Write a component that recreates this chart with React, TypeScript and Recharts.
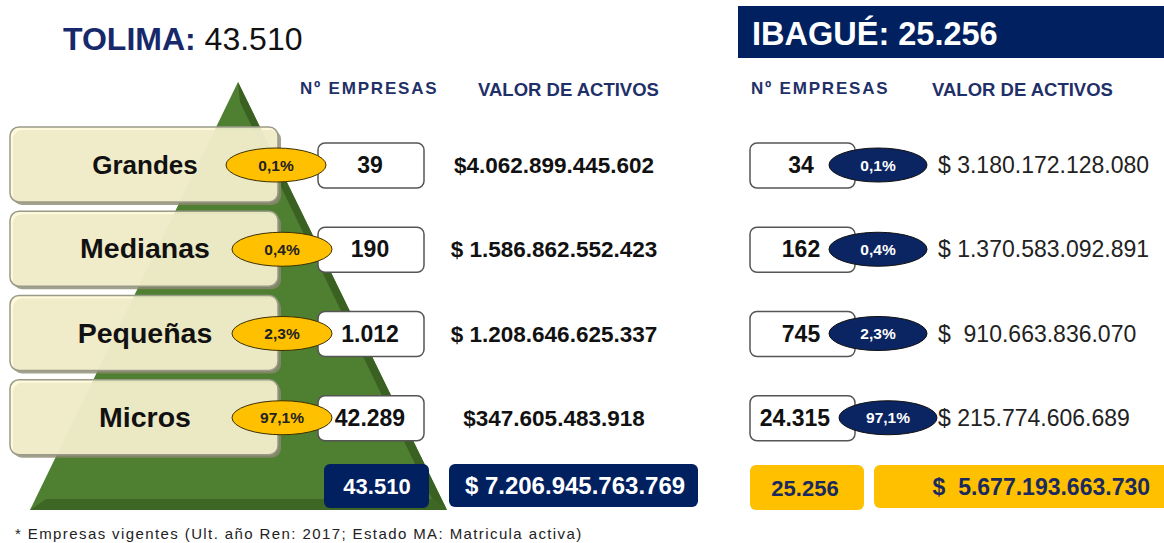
import React from 'react';
import { ComposedChart, Bar, XAxis, YAxis, Customized } from 'recharts';

const categories = ['Grandes', 'Medianas', 'Pequeñas', 'Micros'];
const tolimaCount = [39, 190, 1012, 42289];
const tolimaShare = ['0,1%', '0,4%', '2,3%', '97,1%'];
const tolimaAssets = [4062899445602, 1586862552423, 1208646625337, 347605483918];
const tolimaSign = ['$', '$ ', '$ ', '$'];
const ibagueCount = [34, 162, 745, 24315];
const ibagueShare = ['0,1%', '0,4%', '2,3%', '97,1%'];
const ibagueAssets = [3180172128080, 1370583092891, 910663836070, 215774606689];
const ibagueSign = ['$ ', '$ ', '$  ', '$ '];
const tolimaTotal = 43510;
const tolimaAssetTotal = 7206945763769;
const ibagueTotal = 25256;
const ibagueAssetTotal = 5677193663730;

const NAVY = '#0b2462';
const GOLD = '#ffc000';
const FONT = 'Arial, "Liberation Sans", sans-serif';

const fmt = (n: number) => String(n).replace(/\B(?=(\d{3})+(?!\d))/g, '.');

const data = categories.map((name, i) => ({
  name,
  tolimaCount: tolimaCount[i],
  tolimaShare: tolimaShare[i],
  tolimaAssets: tolimaAssets[i],
  ibagueCount: ibagueCount[i],
  ibagueShare: ibagueShare[i],
  ibagueAssets: ibagueAssets[i],
  i,
}));

// one bar = one whole row of the infographic, placed by the category band
const Row = (props: any) => {
  const { y, height, payload } = props;
  const cy = y + height / 2;
  const i = payload.i;
  const ex = i === 0 ? 276 : 282;
  const rx2 = i === 3 ? 888 : 878;
  return (
    <g fontFamily={FONT}>
      <rect x={13} y={cy - 35} width={268} height={75} rx={9} fill="#8b8a72" opacity={0.8} />
      <rect x={10} y={cy - 38} width={268} height={75} rx={9} fill="#fdf8d4" fillOpacity={0.86} stroke="#9a9a88" strokeWidth={1.5} />
      <text x={145} y={cy + 9} textAnchor="middle" fontSize={i === 0 ? 26 : 28.5} fontWeight="bold" fill="#111">{payload.name}</text>

      <rect x={318} y={cy - 22} width={106} height={45} rx={7} fill="#fff" stroke="#555" strokeWidth={1.5} />
      <text x={370} y={cy + 8} textAnchor="middle" fontSize={23} fontWeight="bold" fill="#111">{fmt(payload.tolimaCount)}</text>
      <ellipse cx={ex} cy={cy} rx={50} ry={17} fill={GOLD} stroke="#3b3000" strokeWidth={1} />
      <text x={ex} y={cy + 5.5} textAnchor="middle" fontSize={15.5} fontWeight="bold" fill="#222">{payload.tolimaShare}</text>
      <text x={554} y={cy + 8} textAnchor="middle" fontSize={22.5} fontWeight="bold" fill="#111" style={{ whiteSpace: 'pre' }}>{tolimaSign[i] + fmt(payload.tolimaAssets)}</text>

      <rect x={750} y={cy - 22} width={105} height={45} rx={7} fill="#fff" stroke="#555" strokeWidth={1.5} />
      <text x={i === 3 ? 795 : 801} y={cy + 8} textAnchor="middle" fontSize={23} fontWeight="bold" fill="#111">{fmt(payload.ibagueCount)}</text>
      <ellipse cx={rx2} cy={cy} rx={49} ry={17} fill={NAVY} stroke="#111" strokeWidth={1} />
      <text x={rx2} y={cy + 5.5} textAnchor="middle" fontSize={15.5} fontWeight="bold" fill="#fff">{payload.ibagueShare}</text>
      <text x={938} y={cy + 8} fontSize={23} fill="#222" style={{ whiteSpace: 'pre' }}>{ibagueSign[i] + fmt(payload.ibagueAssets)}</text>
    </g>
  );
};

const Backdrop = () => (
  <g>
    <polygon points="238,82 30,510 447,510" fill="#4f7f31" />
    <polygon points="238,82 447,510 432,499 240,102" fill="#3a6121" />
    <polygon points="30,510 447,510 432,499 46,499" fill="#3e6624" />
  </g>
);

const Overlay = () => (
  <g fontFamily={FONT}>
    <text x={63} y={50} fontSize={32} fill="#111">
      <tspan fontWeight="bold" fill="#17296b">TOLIMA: </tspan>
      <tspan>{fmt(tolimaTotal)}</tspan>
    </text>
    <rect x={738} y={6} width={426} height={52} fill="#002060" />
    <text x={752} y={45} fontSize={32.5} fontWeight="bold" fill="#fff">IBAGUÉ: {fmt(ibagueTotal)}</text>

    <g fontSize={17} fontWeight="bold" fill="#1f3068">
      <text x={300} y={94} letterSpacing={1.8}>Nº EMPRESAS</text>
      <text x={478} y={96} fontSize={18.5}>VALOR DE ACTIVOS</text>
      <text x={751} y={94} letterSpacing={1.8}>Nº EMPRESAS</text>
      <text x={932} y={96} fontSize={18.5}>VALOR DE ACTIVOS</text>
    </g>

    <rect x={324} y={464} width={105} height={44} rx={6} fill="#002060" />
    <text x={377} y={494} textAnchor="middle" fontSize={22} fontWeight="bold" fill="#fff">{fmt(tolimaTotal)}</text>
    <rect x={449} y={464} width={249} height={43} rx={6} fill="#002060" />
    <text x={575} y={494} textAnchor="middle" fontSize={24} fontWeight="bold" fill="#fff">{'$ ' + fmt(tolimaAssetTotal)}</text>

    <rect x={750} y={465} width={114} height={45} rx={6} fill={GOLD} />
    <text x={805} y={496} textAnchor="middle" fontSize={22} fontWeight="bold" fill="#1a2a5e">{fmt(ibagueTotal)}</text>
    <rect x={874} y={465} width={296} height={43} rx={6} fill={GOLD} />
    <text x={1150} y={495} textAnchor="end" fontSize={23} fontWeight="bold" fill="#1a2a5e" style={{ whiteSpace: 'pre' }}>{'$  ' + fmt(ibagueAssetTotal)}</text>

    <text x={15} y={539} fontSize={15} letterSpacing={1.4} fill="#222">* Empresas vigentes (Ult. año Ren: 2017; Estado MA: Matricula activa)</text>
  </g>
);

export default function App() {
  return (
    <div style={{ position: 'absolute', left: 0, top: 0 }}>
      <ComposedChart
        width={1164}
        height={543}
        data={data}
        layout="vertical"
        margin={{ top: 123, right: 0, bottom: 83, left: 0 }}
      >
        <XAxis type="number" hide domain={[0, 'dataMax']} />
        <YAxis type="category" dataKey="name" hide />
        <Customized component={<Backdrop />} />
        <Bar dataKey="tolimaCount" barSize={40} isAnimationActive={false} shape={(p: any) => <Row {...p} />} />
        <Customized component={<Overlay />} />
      </ComposedChart>
    </div>
  );
}
